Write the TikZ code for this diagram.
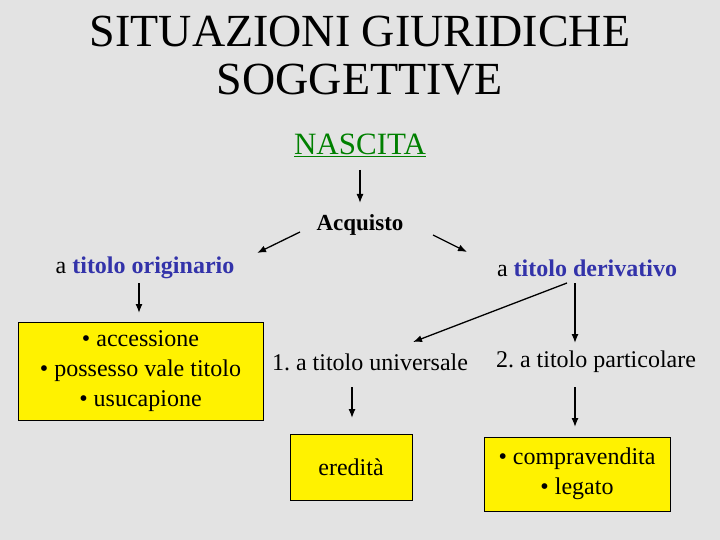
\documentclass[tikz,border=0pt]{standalone}
\usepackage{fontspec}
\usetikzlibrary{arrows.meta}
\setmainfont{Liberation Serif}
\frenchspacing
\begin{document}
\begin{tikzpicture}[x=1pt,y=-1pt,
  arr/.style={-{Latex[length=9pt,width=7pt]},line width=1.3pt},
  body/.style={font=\fontsize{24}{30}\selectfont,inner sep=0pt},
  ybox/.style={draw=black,fill=yellow,line width=0.6pt,align=center,body}]
\fill[gray!22] (0,0) rectangle (720,540);
\useasboundingbox (0,0) rectangle (720,540);
\node[align=center,font=\fontsize{46}{48}\selectfont] (t) at (360,56) {SITUAZIONI GIURIDICHE\\SOGGETTIVE};
\node[font=\fontsize{31}{33}\selectfont,text=green!50!black,inner sep=0pt] (n) at (360,145) {\underline{NASCITA}};
\node[body,font=\bfseries\fontsize{23}{26}\selectfont] (a) at (360,225) {Acquisto};
\node[body] (o) at (145,268) {a \textcolor[HTML]{3333AA}{\textbf{titolo originario}}};
\node[body] (d) at (587,268) {a \textcolor[HTML]{3333AA}{\textbf{titolo derivativo}}};
\node[ybox,minimum width=245,minimum height=98] (yb) at (140.5,371) {• accessione\\• possesso vale titolo\\• usucapione};
\node[body] (u) at (370,362) {1. a titolo universale};
\node[body] (p) at (596,362) {2. a titolo particolare};
\node[ybox,minimum width=122,minimum height=66] (e) at (351,467) {eredità};
\node[ybox,minimum width=186,minimum height=74] (c) at (577,474) {• compravendita\\• legato};
\coordinate (n1) at (360,170); \coordinate (n2) at (360,203);
\draw[arr] (n1) -- (n2);
\draw[arr] (300,232) -- (257,253);
\draw[arr] (433,235) -- (467,252);
\draw[arr] (139,283) -- (139,313);
\draw[arr] (567,283) -- (413,342);
\draw[arr] (575,283) -- (575,343);
\draw[arr] (352,387) -- (352,418);
\draw[arr] (575,387) -- (575,427);
\end{tikzpicture}
\end{document}
